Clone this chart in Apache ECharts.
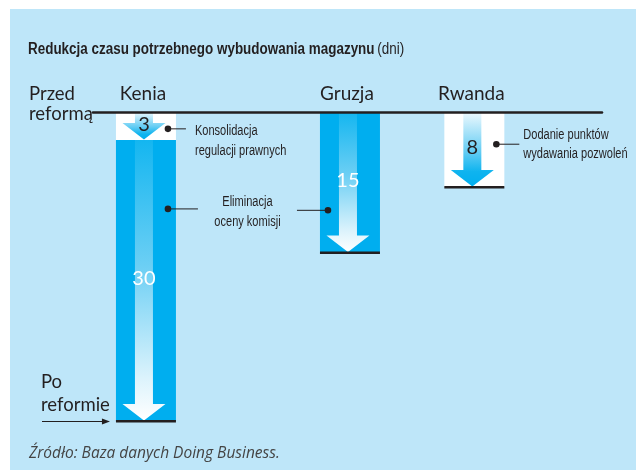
<!DOCTYPE html>
<html><head><meta charset="utf-8">
<script src="https://cdn.jsdelivr.net/npm/echarts@6/dist/echarts.min.js"></script>
<style>html,body{margin:0;padding:0;background:#fff}#c{width:636px;height:470px}</style>
</head><body><div id="c"></div>
<script>
// ---------------- data ----------------
const chartTitle = 'Redukcja czasu potrzebnego wybudowania magazynu';
const unitLabel = '(dni)';
const countries = ['Kenia', 'Gruzja', 'Rwanda'];
const reforms = ['Konsolidacja\nregulacji prawnych', 'Eliminacja\noceny komisji', 'Dodanie punktów\nwydawania pozwoleń'];
// days removed by each reform, per country (null = reform not applied)
const konsolidacja = [3, null, null];
const eliminacja = [30, 15, null];
const dodanie = [null, null, 8];
const stageLabels = ['Przed\nreformą', 'Po\nreformie'];
const sourceNote = 'Źródło: Baza danych Doing Business.';

// ---------------- layout / style ----------------
const countrySlot = [1.29, 6.26, 9.29];   // places on the hidden horizontal axis
const X_MAX = 12.4;
const S = { barW: 60, shaft: 18, headW: 43, headH: 17, arrowShift: -2 };
const INK = '#231f20';
const COND = "'Liberation Sans', Arial, sans-serif";   // horizontally squeezed to mimic a condensed face
const SQUEEZE = 0.8;
const SANS = "Lato, 'Open Sans', sans-serif";
const whiteKind = { bar: '#ffffff', label: INK, arrow: [{offset: 0, color: '#eef9fe'}, {offset: 0.55, color: '#5fcbf3'}, {offset: 0.8, color: '#0fb4ef'}, {offset: 1, color: '#00aeef'}] };
const blueKind = { bar: '#00aeef', label: '#ffffff', arrow: [{offset: 0, color: '#14b6f0'}, {offset: 0.45, color: '#6ccff4'}, {offset: 0.85, color: '#dcf3fc'}, {offset: 1, color: '#ffffff'}] };
const kinds = [whiteKind, blueKind, whiteKind];
// where each callout dot sits: fraction down the reform's segment
const calloutLayout = [
  { anchors: [{ country: 0, at: 0.6, side: 1, len: 18 }], text: { from: 'end', dx: 9, dy: -7.3, align: 'left', lh: 20 } },
  { anchors: [{ country: 0, at: 0.245, side: 1, len: 30 }, { country: 1, at: 0.7, side: -1, len: 31 }], text: { from: 'mid', dx: 0, dy: -17.5, align: 'center', lh: 20 } },
  { anchors: [{ country: 2, at: 0.43, side: 1, len: 23 }], text: { from: 'end', dx: 4, dy: -19, align: 'left', lh: 19.5 } }
];

// ---------------- stacking ----------------
const reformValues = [konsolidacja, eliminacja, dodanie];
const totals = countries.map((_, c) => reformValues.reduce((s, arr) => s + (arr[c] || 0), 0));
const Y_MAX = Math.max.apply(null, totals);
const acc = countries.map(() => 0);
const segRows = reformValues.map(arr => {
  const rows = [];
  arr.forEach((v, c) => {
    if (v == null) return;
    rows.push([countrySlot[c], acc[c], acc[c] + v, v, c]);
    acc[c] += v;
  });
  return rows;
});
const segStart = reformValues.map((arr, r) => countries.map((_, c) => {
  const row = segRows[r].find(x => x[4] === c); return row ? row[1] : null;
}));

function segRenderer(kind) {
  return function (params, api) {
    const x = api.value(0), y0 = api.value(1), y1 = api.value(2), v = api.value(3), c = api.value(4);
    const p0 = api.coord([x, y0]), p1 = api.coord([x, y1]);
    const cx = p0[0], t = p0[1], b = p1[1];
    const ax = cx + S.arrowShift, hw = S.shaft / 2, hh = S.headW / 2, hl = S.headH;
    const pts = [[ax - hw, t], [ax + hw, t], [ax + hw, b - hl], [ax + hh, b - hl], [ax, b - 0.5], [ax - hh, b - hl], [ax - hw, b - hl]];
    const ch = [
      { type: 'rect', shape: { x: cx - S.barW / 2, y: t, width: S.barW, height: b - t }, style: { fill: kind.bar } },
      { type: 'polygon', shape: { points: pts }, style: { fill: new echarts.graphic.LinearGradient(0, 0, 0, 1, kind.arrow) } },
      { type: 'text', x: ax, y: (t + b) / 2 - 1.5, style: { text: String(v), fill: kind.label, fontFamily: SANS, fontSize: 20, align: 'center', verticalAlign: 'middle' } }
    ];
    if (y1 === totals[c]) ch.push({ type: 'rect', shape: { x: cx - S.barW / 2, y: b - 1, width: S.barW, height: 2.5 }, style: { fill: INK } });
    return { type: 'group', children: ch };
  };
}

const series = segRows.map((rows, r) => ({
  type: 'custom', name: reforms[r].replace('\n', ' '), data: rows, renderItem: segRenderer(kinds[r]), silent: true
}));

// country names above the baseline
series.push({
  type: 'custom', silent: true, data: countries.map((n, c) => [countrySlot[c], 0]),
  renderItem: function (params, api) {
    const p = api.coord([api.value(0), 0]);
    return { type: 'text', x: p[0] - 3, y: p[1] - 18, style: { text: countries[params.dataIndex], fill: INK, fontFamily: SANS, fontSize: 19, align: 'center', verticalAlign: 'middle' } };
  }
});

// before / after labels
series.push({
  type: 'custom', silent: true, data: [[0, 0], [0, totals[0]]],
  renderItem: function (params, api) {
    const p = api.coord([0, api.value(1)]);
    if (params.dataIndex === 0) {
      return { type: 'text', x: p[0] - 64, y: p[1] - 28, style: { text: stageLabels[0], fill: INK, fontFamily: SANS, fontSize: 18.5, lineHeight: 20, align: 'left', verticalAlign: 'top' } };
    }
    const tip = api.coord([countrySlot[0], api.value(1)]);
    const tx = tip[0] - S.barW / 2 - 6, y = tip[1] + 0.5;
    return { type: 'group', children: [
      { type: 'text', x: p[0] - 52, y: p[1] - 50, style: { text: stageLabels[1], fill: INK, fontFamily: SANS, fontSize: 18.5, lineHeight: 22.5, align: 'left', verticalAlign: 'top' } },
      { type: 'line', shape: { x1: p[0] - 51, y1: y, x2: tx - 6, y2: y }, style: { stroke: INK, lineWidth: 1 } },
      { type: 'polygon', shape: { points: [[tx, y], [tx - 8, y - 3], [tx - 8, y + 3]] }, style: { fill: INK } }
    ] };
  }
});

// callouts
series.push({
  type: 'custom', silent: true, data: reforms.map((_, r) => [r, 0]),
  renderItem: function (params, api) {
    const r = params.dataIndex, L = calloutLayout[r];
    const ch = [];
    const ends = [];
    L.anchors.forEach(a => {
      const v = reformValues[r][a.country];
      const yv = segStart[r][a.country] + a.at * v;
      const p = api.coord([countrySlot[a.country], yv]);
      const dx = p[0] + a.side * (S.barW / 2 - 8);
      const ex = dx + a.side * a.len;
      ch.push({ type: 'line', shape: { x1: dx, y1: p[1], x2: ex, y2: p[1] }, style: { stroke: INK, lineWidth: 1 } });
      ch.push({ type: 'circle', shape: { cx: dx, cy: p[1], r: 3.3 }, style: { fill: INK } });
      ends.push([ex, p[1]]);
    });
    let tx, ty;
    if (L.text.from === 'mid') { tx = (ends[0][0] + ends[1][0]) / 2; ty = (ends[0][1] + ends[1][1]) / 2; }
    else { tx = ends[0][0]; ty = ends[0][1]; }
    ch.push({ type: 'text', x: tx + L.text.dx, y: ty + L.text.dy, scaleX: SQUEEZE, style: { text: reforms[r], fill: INK, fontFamily: COND, fontSize: 13.8, lineHeight: L.text.lh, align: L.text.align, verticalAlign: 'top' } });
    return { type: 'group', children: ch };
  }
});

const chart = echarts.init(document.getElementById('c'), null, { renderer: 'canvas' });
chart.setOption({
  backgroundColor: '#ffffff',
  animation: false,
  graphic: [
    { type: 'rect', left: 10, top: 9, shape: { width: 626, height: 461 }, style: { fill: '#bee6f9' }, z: -10, silent: true },
    { type: 'text', x: 28, y: 49.5, scaleX: 0.84, silent: true,
      style: { text: '{b|' + chartTitle + '} {n|' + unitLabel + '}', verticalAlign: 'middle', align: 'left',
        rich: {
          b: { fontFamily: COND, fontWeight: 'bold', fontSize: 16, fill: INK, color: INK },
          n: { fontFamily: COND, fontSize: 16, fill: INK, color: INK }
        } } },
    { type: 'text', left: 29, top: 446, style: { text: sourceNote, fill: '#444444', fontFamily: "'Open Sans', Lato, sans-serif", fontStyle: 'italic', fontSize: 15.5 }, silent: true }
  ],
  grid: { left: 93, right: 34, top: 112, bottom: 49 },
  xAxis: {
    type: 'value', min: 0, max: X_MAX, position: 'top', z: 10,
    axisLine: { show: true, onZero: false, lineStyle: { color: INK, width: 2.5 } },
    axisTick: { show: false }, axisLabel: { show: false }, splitLine: { show: false }
  },
  yAxis: { type: 'value', inverse: true, min: 0, max: Y_MAX, show: false, splitLine: { show: false } },
  series: series
});
</script>
</body></html>
